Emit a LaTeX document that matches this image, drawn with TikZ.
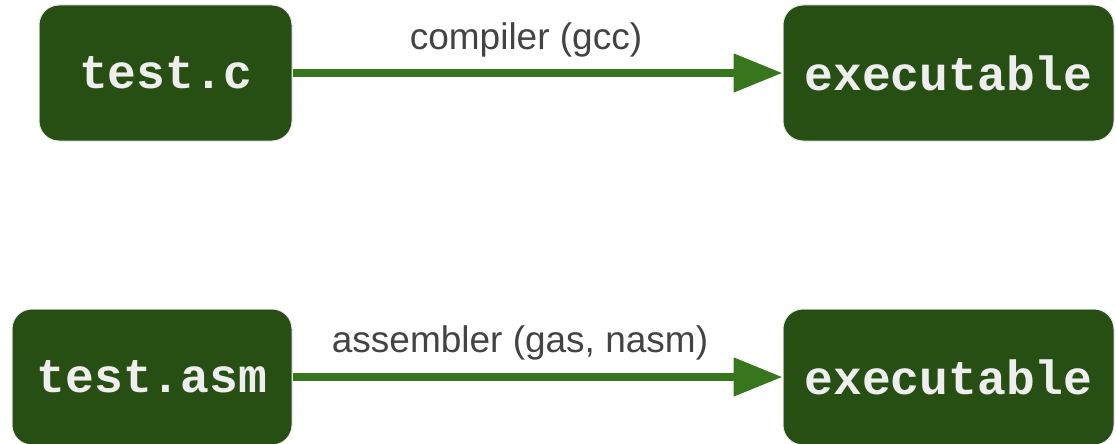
\documentclass[tikz,border=0pt]{standalone}
\usepackage{fontspec}
\setmainfont{Liberation Sans}
\newfontfamily\codefont{Liberation Mono}
\usetikzlibrary{arrows.meta}
\definecolor{boxgreen}{HTML}{274E13}
\definecolor{arrowgreen}{HTML}{38761D}
\definecolor{labelgray}{HTML}{434343}
\definecolor{boxtext}{HTML}{EEEEEE}
\definecolor{boxedge}{HTML}{E8E8E8}
\tikzset{
  filebox/.style={rectangle, rounded corners=20pt, fill=boxgreen, draw=boxedge, line width=1pt,
    minimum height=136pt, inner sep=0pt, text=boxtext,
    font=\codefont\bfseries\fontsize{48}{52}\selectfont},
  flow/.style={draw=arrowgreen, line width=8pt, -{Triangle[length=49pt,width=37pt]}},
  flowlabel/.style={anchor=base, text=labelgray, font=\fontsize{37}{40}\selectfont, inner sep=0pt}
}
\begin{document}
\begin{tikzpicture}[x=1pt,y=-1pt]
\useasboundingbox (0,0) rectangle (1116,444);
\node[filebox, minimum width=253pt] (tc) at (165.5,73) {test.c};
\node[filebox, minimum width=331pt] (ex1) at (948.5,73) {executable};
\node[filebox, minimum width=280pt] (ta) at (152,377) {test.asm};
\node[filebox, minimum width=331pt] (ex2) at (948.5,377) {executable};
\draw[flow] (tc.east) -- (ex1.west);
\draw[flow] (ta.east) -- (ex2.west);
\node[flowlabel] (l1) at (526,49) {compiler (gcc)};
\node[flowlabel] (l2) at (520,352) {assembler (gas, nasm)};
\end{tikzpicture}
\end{document}
